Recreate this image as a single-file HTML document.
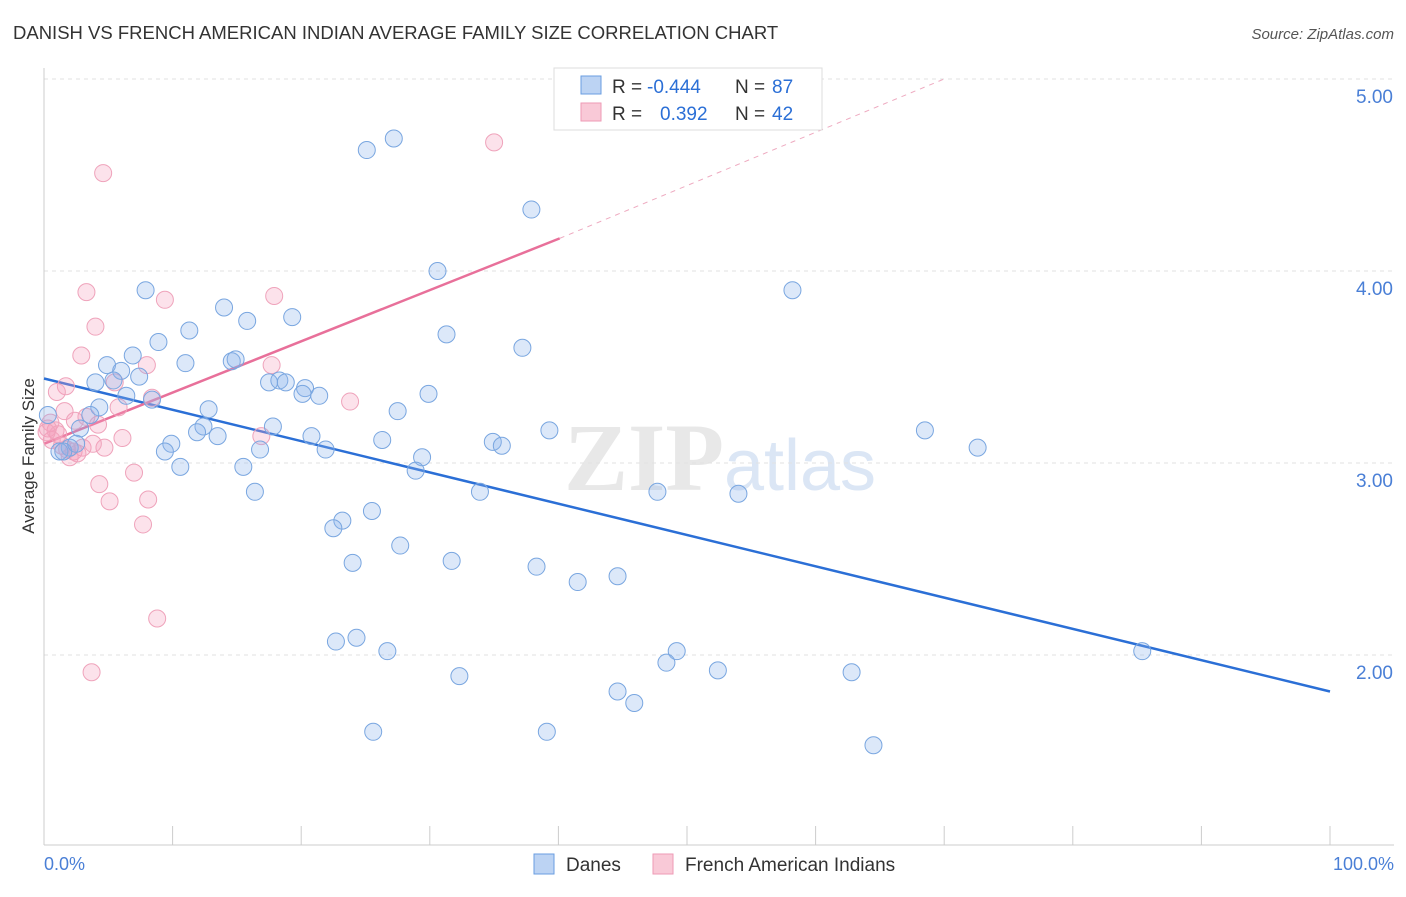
<!DOCTYPE html>
<html><head><meta charset="utf-8"><style>
body{margin:0;background:#fff;font-family:"Liberation Sans",sans-serif}
</style></head><body>
<svg id="chart" width="1406" height="892" xmlns="http://www.w3.org/2000/svg" font-family="Liberation Sans, sans-serif">
<text x="13" y="39" font-size="18.5" fill="#333">DANISH VS FRENCH AMERICAN INDIAN AVERAGE FAMILY SIZE CORRELATION CHART</text>
<text x="1394" y="39" font-size="15" fill="#555" text-anchor="end" font-style="italic">Source: ZipAtlas.com</text>
<text x="720" y="490" font-size="96" fill="#e8e8e8" text-anchor="middle" font-family="Liberation Serif, serif" font-weight="bold">ZIP<tspan fill="#dbe6f5" font-family="Liberation Sans, sans-serif" font-weight="normal" font-size="72">atlas</tspan></text>
<g id="grid"></g><g id="axes"></g><g id="lines"></g><g id="pts"></g>
<text transform="translate(34,456) rotate(-90)" font-size="17" fill="#333" text-anchor="middle">Average Family Size</text>
<text x="44" y="870" font-size="18" fill="#4a7fd6">0.0%</text>
<text x="1394" y="870" font-size="18" fill="#4a7fd6" text-anchor="end">100.0%</text>
<g font-size="19">
<rect x="554" y="68" width="268" height="62" fill="#fff" stroke="#ddd"/>
<rect x="581" y="76" width="20" height="18" fill="#bcd3f3" stroke="#6a9ee0"/>
<rect x="581" y="103" width="20" height="18" fill="#f9c9d7" stroke="#ee9ab5"/>
<text x="612" y="93" fill="#333">R =</text><text x="647" y="93" fill="#2b6fd6">-0.444</text>
<text x="735" y="93" fill="#333">N =</text><text x="772" y="93" fill="#2b6fd6">87</text>
<text x="612" y="120" fill="#333">R =</text><text x="660" y="120" fill="#2b6fd6">0.392</text>
<text x="735" y="120" fill="#333">N =</text><text x="772" y="120" fill="#2b6fd6">42</text>
</g>
<g><rect x="534" y="854" width="20" height="20" fill="#bcd3f3" stroke="#6a9ee0"/><text x="566" y="871" font-size="19" fill="#333">Danes</text></g>
<g><rect x="653" y="854" width="20" height="20" fill="#f9c9d7" stroke="#ee9ab5"/><text x="685" y="871" font-size="19" fill="#333">French American Indians</text></g>
</svg>
<script>
const blueX=[25.1,27.2,37.9,30.6,58.2,7.9,14.0,15.8,19.3,11.3,8.9,31.3,37.2,6.9,11.0,14.6,14.9,4.9,6.0,7.4,4.0,5.4,17.5,18.3,18.8,20.3,20.1,21.4,29.9,6.4,8.4,4.3,12.8,27.5,3.6,2.8,12.4,17.8,11.9,13.5,20.8,26.3,39.3,68.5,34.9,35.6,9.9,9.4,16.8,21.9,72.6,29.4,2.0,1.2,10.6,15.5,28.9,16.4,33.9,47.7,54.0,25.5,23.2,22.5,27.7,24.0,31.7,38.3,44.6,41.5,22.7,24.3,26.7,49.2,48.4,52.4,62.8,85.4,32.3,44.6,45.9,25.6,39.1,64.5,0.3,1.5,2.5];
const blueY=[4.63,4.69,4.32,4.00,3.90,3.90,3.81,3.74,3.76,3.69,3.63,3.67,3.60,3.56,3.52,3.53,3.54,3.51,3.48,3.45,3.42,3.43,3.42,3.43,3.42,3.39,3.36,3.35,3.36,3.35,3.33,3.29,3.28,3.27,3.25,3.18,3.19,3.19,3.16,3.14,3.14,3.12,3.17,3.17,3.11,3.09,3.10,3.06,3.07,3.07,3.08,3.03,3.08,3.06,2.98,2.98,2.96,2.85,2.85,2.85,2.84,2.75,2.70,2.66,2.57,2.48,2.49,2.46,2.41,2.38,2.07,2.09,2.02,2.02,1.96,1.92,1.91,2.02,1.89,1.81,1.75,1.60,1.60,1.53,3.25,3.06,3.10];
const pinkX=[35.0,4.6,3.3,9.4,17.9,4.0,2.9,8.0,17.7,1.7,1.0,5.5,8.4,23.8,5.8,1.6,3.3,0.5,2.4,0.9,6.1,16.9,1.4,3.0,4.7,2.3,2.0,7.0,4.3,8.1,5.1,7.7,8.8,3.7,0.3,0.6,1.1,2.6,3.8,4.2,0.2,1.8];
const pinkY=[4.67,4.51,3.89,3.85,3.87,3.71,3.56,3.51,3.51,3.40,3.37,3.42,3.34,3.32,3.29,3.27,3.24,3.21,3.22,3.17,3.13,3.14,3.09,3.08,3.08,3.06,3.03,2.95,2.89,2.81,2.80,2.68,2.19,1.91,3.18,3.12,3.15,3.05,3.10,3.20,3.16,3.07];
const yTicks=[2,3,4,5];
const blueLine=[[0,3.44],[100,1.81]];
const pinkLine=[[0,3.10],[40.1,4.17]];
const pinkDash=[[40.1,4.17],[70,5.0]];
const xs=v=>44+v*12.86, ys=v=>655-(v-2)*192;
const NS="http://www.w3.org/2000/svg";
function mk(p,t,a){const e=document.createElementNS(NS,t);for(const k in a)e.setAttribute(k,a[k]);p.appendChild(e);return e;}
const grid=document.getElementById('grid'),axes=document.getElementById('axes'),lines=document.getElementById('lines'),pts=document.getElementById('pts');
yTicks.forEach(t=>{const l=mk(grid,'line',{x1:44,x2:1394,y1:ys(t),y2:ys(t),stroke:'#e2e2e2','stroke-dasharray':'4,4'});


const tx=mk(grid,'text',{x:1393,y:ys(t)+24,'font-size':19,fill:'#4a7fd6','text-anchor':'end'});tx.textContent=t.toFixed(2);

});
mk(axes,'line',{x1:44,x2:44,y1:68,y2:845,stroke:'#ccc'});
mk(axes,'line',{x1:44,x2:1394,y1:845,y2:845,stroke:'#ccc'});
for(let i=0;i<=10;i++){const t=mk(axes,'line',{x1:xs(i*10),x2:xs(i*10),y1:826,y2:845,stroke:'#ccc'});

}
function ln(seg,c,dash,name){const l=mk(lines,'line',{x1:xs(seg[0][0]),y1:ys(seg[0][1]),x2:xs(seg[1][0]),y2:ys(seg[1][1]),stroke:c,'stroke-width':dash?1:2.5});if(dash)l.setAttribute('stroke-dasharray','5,5');

}
ln(blueLine,'#2b6fd6',false,'danes-trend-line');ln(pinkLine,'#e8709a',false,'french-trend-line');ln(pinkDash,'#eeaac0',true,'french-trend-extension');
pinkX.forEach((x,i)=>{const c=mk(pts,'circle',{cx:xs(x),cy:ys(pinkY[i]),r:8.5,fill:'rgba(244,160,188,0.3)',stroke:'#efa3bb','stroke-width':1});

});
blueX.forEach((x,i)=>{const c=mk(pts,'circle',{cx:xs(x),cy:ys(blueY[i]),r:8.5,fill:'rgba(140,180,235,0.3)',stroke:'#79a6e0','stroke-width':1});

});
</script>
</body></html>
